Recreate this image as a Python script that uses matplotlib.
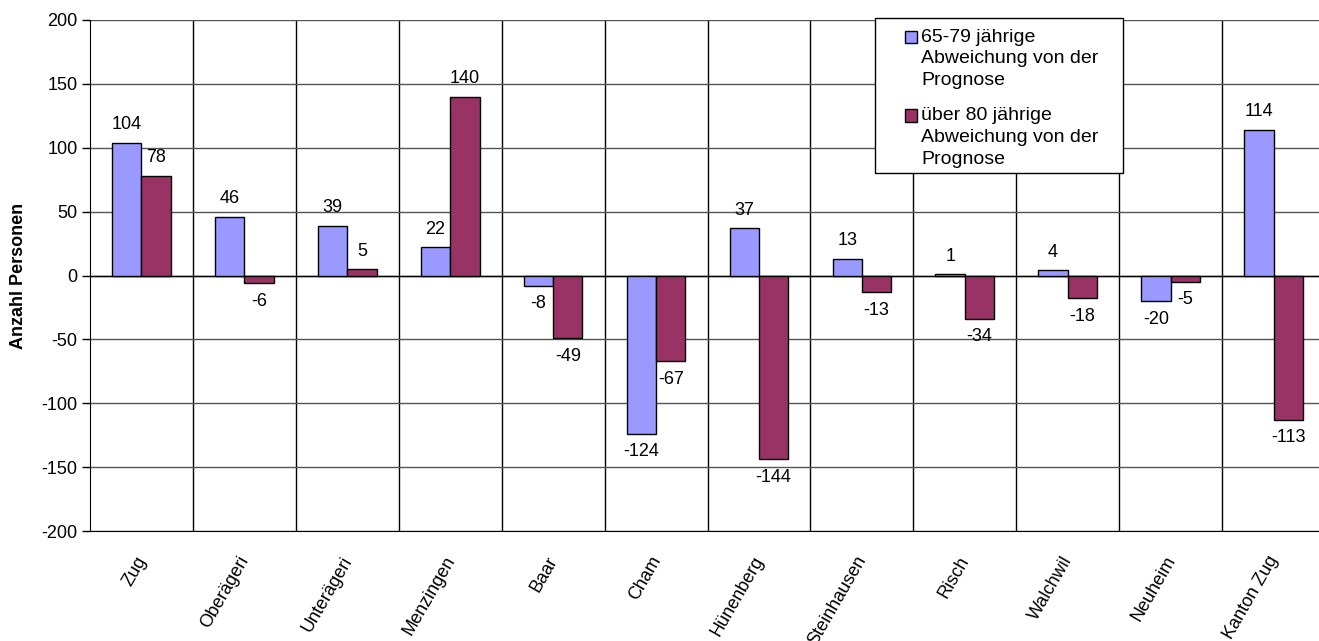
import matplotlib
matplotlib.use("Agg")
import matplotlib.pyplot as plt
import numpy as np
from matplotlib.patches import Rectangle

plt.rcParams['font.family'] = ['Liberation Sans', 'DejaVu Sans']

categories = ["Zug", "Oberägeri", "Unterägeri", "Menzingen", "Baar", "Cham",
              "Hünenberg", "Steinhausen", "Risch", "Walchwil", "Neuheim", "Kanton Zug"]
age_65_79 = [104, 46, 39, 22, -8, -124, 37, 13, 1, 4, -20, 114]
age_80_plus = [78, -6, 5, 140, -49, -67, -144, -13, -34, -18, -5, -113]
series_labels = ["65-79 jährige\nAbweichung von der\nPrognose",
                 "über 80 jährige\nAbweichung von der\nPrognose"]
y_ticks = [-200, -150, -100, -50, 0, 50, 100, 150, 200]

col_blue = "#9999FF"
col_red = "#993366"
FS = 13
LEG_FS = 14

W, H = 1319, 641
fig = plt.figure(figsize=(W / 100, H / 100), dpi=100)
ax = fig.add_axes([90 / W, 1 - 531 / H, 1235 / W, 511 / H])

x = np.arange(len(categories))
bw = 0.285
bars1 = ax.bar(x - bw / 2, age_65_79, bw, color=col_blue, edgecolor="black", linewidth=1, zorder=3)
bars2 = ax.bar(x + bw / 2, age_80_plus, bw, color=col_red, edgecolor="black", linewidth=1, zorder=3)

for bars, vals in ((bars1, age_65_79), (bars2, age_80_plus)):
    for b, v in zip(bars, vals):
        cx = b.get_x() + b.get_width() / 2
        off = 13 if v >= 0 else -13
        ax.annotate(str(v), (cx, v), xytext=(0, off), textcoords="offset points",
                    ha="center", va="center", fontsize=FS, zorder=4)

ax.set_xlim(-0.5, len(categories) - 0.5)
ax.set_ylim(-200, 200)
ax.set_yticks(y_ticks)
ax.set_yticklabels([str(t) for t in y_ticks], fontsize=FS)
ax.tick_params(axis="y", direction="out", length=6, width=1, pad=3)

# category separators as vertical grid lines
ax.set_xticks(x)
ax.set_xticks(np.arange(len(categories) - 1) + 0.5, minor=True)
ax.tick_params(axis="x", which="both", length=0)
ax.set_xticklabels([])
ax.grid(axis="x", which="minor", color="black", linewidth=1, zorder=1)
ax.grid(axis="y", which="major", color="#555555", linewidth=1, zorder=1)
ax.axhline(0, color="black", linewidth=1, zorder=2)

for i, c in enumerate(categories):
    ax.annotate(c, (i, -200), xytext=(0.5, -19), textcoords="offset points",
                rotation=60, ha="right", va="center", rotation_mode="anchor",
                fontsize=FS, annotation_clip=False)

for s in ("top", "right"):
    ax.spines[s].set_visible(False)
ax.spines["left"].set_color("black")
ax.spines["bottom"].set_color("black")

ax.set_ylabel("Anzahl Personen", fontsize=FS, fontweight="bold", labelpad=10)

# legend box with handles aligned to the first line of each entry
def fx(px):
    return px / W

def fy(py):
    return 1 - py / H

fig.add_artist(Rectangle((fx(875), fy(173)), fx(1123) - fx(875), fy(18) - fy(173),
                         transform=fig.transFigure, facecolor="white", edgecolor="black",
                         linewidth=1, zorder=5))
first_baselines = [41.5, 120.5]
line_step = 21.7
for base, col, lab in zip(first_baselines, (col_blue, col_red), series_labels):
    fig.add_artist(Rectangle((fx(905), fy(base + 1)), fx(917) - fx(905), fy(base - 11) - fy(base + 1),
                             transform=fig.transFigure, facecolor=col, edgecolor="black",
                             linewidth=1, zorder=6))
    for k, line in enumerate(lab.split("\n")):
        fig.text(fx(921), fy(base + k * line_step), line, ha="left", va="baseline",
                 fontsize=LEG_FS, zorder=6)

fig.savefig("out.png", dpi=100)
